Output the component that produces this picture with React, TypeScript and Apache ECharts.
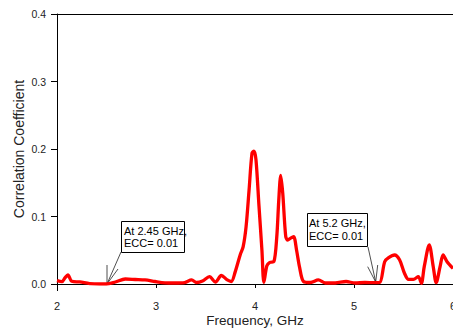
import React, { useEffect, useRef } from "react";
import * as echarts from "echarts";

const frequencyGHz = [
  2.0, 2.05, 2.08, 2.11, 2.15, 2.23, 2.33, 2.43, 2.5, 2.59, 2.69, 2.79, 2.89, 2.99,
  3.09, 3.19, 3.29, 3.36, 3.41, 3.47, 3.54, 3.6, 3.66, 3.72, 3.76, 3.8, 3.85, 3.88,
  3.91, 3.94, 3.97, 3.99, 4.01, 4.04, 4.07, 4.09, 4.12, 4.15, 4.19, 4.22, 4.24, 4.26,
  4.28, 4.31, 4.33, 4.36, 4.39, 4.42, 4.45, 4.49, 4.56, 4.64, 4.71, 4.81, 4.92, 5.01,
  5.11, 5.21, 5.26, 5.31, 5.35, 5.41, 5.46, 5.51, 5.55, 5.6, 5.65, 5.68, 5.71, 5.76,
  5.8, 5.83, 5.87, 5.9, 5.94, 6.0,
];
const correlation = [
  0.005, 0.0034, 0.009, 0.0133, 0.004, 0.003, 0.0007, 0.0, 0.0, 0.003, 0.0074, 0.0067,
  0.006, 0.0037, 0.0018, 0.0015, 0.0022, 0.006, 0.0022, 0.0044, 0.0108, 0.003, 0.0126,
  0.006, 0.0037, 0.018, 0.043, 0.055, 0.085, 0.139, 0.194, 0.197, 0.184, 0.116, 0.05,
  0.0025, 0.027, 0.032, 0.033, 0.07, 0.124, 0.161, 0.135, 0.071, 0.065, 0.068, 0.07,
  0.05, 0.025, 0.0037, 0.0022, 0.006, 0.0015, 0.0015, 0.0037, 0.0015, 0.0022, 0.002,
  0.0022, 0.033, 0.039, 0.043, 0.036, 0.016, 0.007, 0.007, 0.011, 0.001, 0.026, 0.058,
  0.026, 0.002, 0.026, 0.043, 0.033, 0.023,
];
const annotation1 = "At 2.45 GHz,\nECC= 0.01";
const annotation2 = "At 5.2 GHz,\nECC= 0.01";

const FONT = "Liberation Sans, Arial, sans-serif";

export default function App() {
  const ref = useRef<HTMLDivElement>(null);
  useEffect(() => {
    if (!ref.current) return;
    const chart = echarts.init(ref.current, null, { renderer: "svg" });
    const data = frequencyGHz.map((f, i) => [f, correlation[i]]);
    chart.setOption({
      animation: false,
      backgroundColor: "#fff",
      grid: { left: 57, right: 0, top: 14, bottom: 44, containLabel: false, outerBoundsMode: "none" },
      xAxis: {
        type: "value",
        min: 2,
        max: 6,
        interval: 1,
        offset: 7,
        name: "Frequency, GHz",
        nameLocation: "middle",
        nameGap: 22,
        nameMoveOverlap: false,
        nameTextStyle: { fontFamily: FONT, fontSize: 13.5, color: "#222" },
        axisLine: { show: true, lineStyle: { color: "#000", width: 1 } },
        axisTick: { show: true, length: 4, lineStyle: { color: "#000" } },
        axisLabel: { fontFamily: FONT, fontSize: 11, color: "#222", margin: 9 },
        splitLine: { show: false },
      },
      yAxis: {
        type: "value",
        min: 0,
        max: 0.4,
        interval: 0.1,
        name: "Correlation Coefficient",
        nameLocation: "middle",
        nameGap: 31,
        nameMoveOverlap: false,
        nameTextStyle: { fontFamily: FONT, fontSize: 14, color: "#222" },
        axisLine: { show: true, lineStyle: { color: "#000", width: 1 } },
        axisTick: { show: true, length: 6, lineStyle: { color: "#000" } },
        axisLabel: {
          fontFamily: FONT,
          fontSize: 10.5,
          color: "#222",
          margin: 11,
          formatter: (v: number) => v.toFixed(1),
        },
        splitLine: { show: false },
      },
      series: [
        {
          type: "line",
          data,
          smooth: 0.3,
          showSymbol: false,
          symbol: "none",
          lineStyle: { color: "#ff0000", width: 3.3 },
        },
      ],
      graphic: [
        { type: "line", shape: { x1: 57, y1: 14.5, x2: 453, y2: 14.5 }, style: { stroke: "#000", lineWidth: 1 } },
        { type: "line", shape: { x1: 57.5, y1: 284, x2: 57.5, y2: 291 }, style: { stroke: "#000", lineWidth: 1 } },
        { type: "rect", shape: { x: 121.5, y: 221.5, width: 63, height: 31 }, style: { fill: "#fff", stroke: "#000", lineWidth: 1 } },
        { type: "text", x: 124, y: 224.5, style: { text: annotation1, font: `11px ${FONT}`, fill: "#000", lineHeight: 12.5 } },
        { type: "line", shape: { x1: 121, y1: 252, x2: 107, y2: 284 }, style: { stroke: "#222", lineWidth: 0.8 } },
        { type: "polyline", shape: { points: [[107, 265], [107, 284], [118, 269]] }, style: { stroke: "#222", lineWidth: 0.8, fill: "none" } },
        { type: "rect", shape: { x: 307.5, y: 213.5, width: 60, height: 33 }, style: { fill: "#fff", stroke: "#000", lineWidth: 1 } },
        { type: "text", x: 309, y: 217, style: { text: annotation2, font: `11px ${FONT}`, fill: "#000", lineHeight: 12.5 } },
        { type: "line", shape: { x1: 368, y1: 247, x2: 375.7, y2: 282 }, style: { stroke: "#222", lineWidth: 0.8 } },
        { type: "polyline", shape: { points: [[367.7, 266.7], [375.7, 282], [377.7, 265]] }, style: { stroke: "#222", lineWidth: 0.8, fill: "none" } },
      ],
    });
    return () => chart.dispose();
  }, []);
  return (
    <div style={{ position: "fixed", left: 0, top: 0, width: 453, height: 328, overflow: "hidden" }}>
      <div ref={ref} style={{ width: 453, height: 328 }} />
    </div>
  );
}
